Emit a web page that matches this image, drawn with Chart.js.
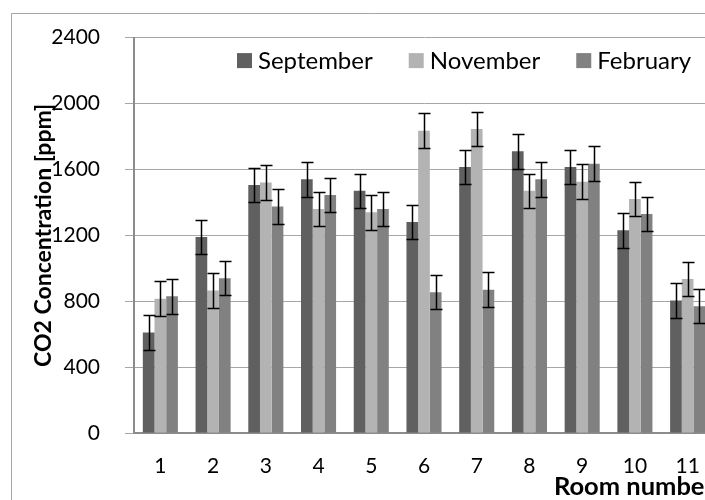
<!DOCTYPE html>
<html>
<head>
<meta charset="utf-8">
<script src="https://cdn.jsdelivr.net/npm/chart.js@4/dist/chart.umd.min.js"></script>
<style>
  html, body { margin: 0; padding: 0; background: #fff; overflow: hidden; width: 705px; height: 500px; }
  canvas { display: block; }
</style>
</head>
<body>
<canvas id="co2" width="730" height="500"></canvas>
<script>
// Room numbers along the x axis
const rooms = ['1', '2', '3', '4', '5', '6', '7', '8', '9', '10', '11'];

// Mean CO2 concentration per room [ppm]
const september = [610, 1190, 1505, 1540, 1470, 1280, 1615, 1710, 1615, 1230, 805];
const november  = [815, 865, 1520, 1360, 1340, 1835, 1845, 1470, 1525, 1420, 935];
const february  = [830, 940, 1375, 1445, 1360, 855, 870, 1540, 1635, 1330, 770];

// Error bar half-widths [ppm]
const septemberErr = [105, 105, 105, 105, 105, 105, 105, 105, 105, 105, 105];
const novemberErr  = [105, 105, 105, 105, 105, 105, 105, 105, 105, 105, 105];
const februaryErr  = [105, 105, 105, 105, 105, 105, 105, 105, 105, 105, 105];

// Y axis ticks
const yTicks = [0, 400, 800, 1200, 1600, 2000, 2400];

const FONT = 'Lato, "Open Sans", sans-serif';

// Draws symmetric error bars on top of every bar
const errorBars = {
  id: 'errorBars',
  afterDatasetsDraw(chart) {
    const { ctx, scales: { y } } = chart;
    ctx.save();
    ctx.strokeStyle = '#000';
    ctx.lineWidth = 1.5;
    chart.data.datasets.forEach((ds, i) => {
      const meta = chart.getDatasetMeta(i);
      meta.data.forEach((bar, j) => {
        const v = ds.data[j], e = ds.errors[j];
        const x = Math.round(bar.x) + 0.5;
        const yt = Math.round(y.getPixelForValue(v + e)) + 0.5;
        const yb = Math.round(y.getPixelForValue(v - e)) + 0.5;
        ctx.beginPath();
        ctx.moveTo(x, yt); ctx.lineTo(x, yb);
        ctx.moveTo(x - 6, yt); ctx.lineTo(x + 6, yt);
        ctx.moveTo(x - 6, yb); ctx.lineTo(x + 6, yb);
        ctx.stroke();
      });
    });
    ctx.restore();
  }
};

// Legend drawn in one row inside the top of the plot area
const insideLegend = {
  id: 'insideLegend',
  afterDraw(chart) {
    const { ctx, chartArea } = chart;
    const size = 24, box = 15, gap = 6, spacing = 36;
    ctx.save();
    ctx.font = size + 'px ' + FONT;
    ctx.textBaseline = 'middle';
    ctx.textAlign = 'left';
    let x = chartArea.left + 103;
    const cy = chartArea.top + 23;
    chart.data.datasets.forEach(ds => {
      const w = ctx.measureText(ds.label).width;
      ctx.fillStyle = ds.backgroundColor;
      ctx.fillRect(x, cy - box / 2, box, box);
      ctx.fillStyle = '#000';
      ctx.fillText(ds.label, x + box + gap, cy + 1);
      x += box + gap + w + spacing;
    });
    ctx.restore();
  }
};

// White background and the thin frame around the figure
const frame = {
  id: 'frame',
  beforeDraw(chart) {
    const { ctx, width, height } = chart;
    ctx.save();
    ctx.fillStyle = '#fff';
    ctx.fillRect(0, 0, width, height);
    ctx.strokeStyle = '#a6a6a6';
    ctx.lineWidth = 1;
    ctx.beginPath();
    ctx.moveTo(11.5, height);
    ctx.lineTo(11.5, 13.5);
    ctx.lineTo(width, 13.5);
    ctx.stroke();
    ctx.restore();
  }
};

new Chart(document.getElementById('co2'), {
  type: 'bar',
  data: {
    labels: rooms,
    datasets: [
      { label: 'September', data: september, errors: septemberErr, backgroundColor: '#606060' },
      { label: 'November',  data: november,  errors: novemberErr,  backgroundColor: '#b3b3b3' },
      { label: 'February',  data: february,  errors: februaryErr,  backgroundColor: '#818181' }
    ]
  },
  options: {
    responsive: false,
    animation: false,
    devicePixelRatio: 1,
    layout: { padding: { left: 0, right: 16, top: 33, bottom: 0 } },
    datasets: { bar: { categoryPercentage: 0.665, barPercentage: 1.0 } },
    plugins: {
      legend: { display: false },
      tooltip: { enabled: false }
    },
    scales: {
      x: {
        grid: { display: false, drawTicks: false },
        border: { display: true, color: '#8c8c8c', width: 2 },
        ticks: { font: { family: FONT, size: 21 }, color: '#000', padding: 21, maxRotation: 0 },
        title: {
          display: true,
          text: 'Room number',
          align: 'end',
          font: { family: FONT, size: 25.5, weight: 'bold' },
          color: '#000',
          padding: { top: 0, bottom: -2 }
        },
        afterFit(scale) { scale.height = 67; }
      },
      y: {
        min: 0,
        max: 2400,
        afterBuildTicks(scale) { scale.ticks = yTicks.map(v => ({ value: v })); },
        grid: { color: '#a6a6a6', lineWidth: 1, drawTicks: true, tickLength: 9 },
        border: { display: true, color: '#8c8c8c', width: 2 },
        ticks: {
          font: { family: FONT, size: 21 },
          color: '#000',
          padding: 25,
          callback: v => String(v)
        },
        title: {
          display: true,
          text: 'CO2 Concentration [ppm]',
          font: { family: FONT, size: 23, weight: 'bold' },
          color: '#000',
          padding: { top: 30, bottom: 0 }
        },
        afterFit(scale) { scale.width = 134; }
      }
    }
  },
  plugins: [frame, errorBars, insideLegend]
});
</script>
</body>
</html>
